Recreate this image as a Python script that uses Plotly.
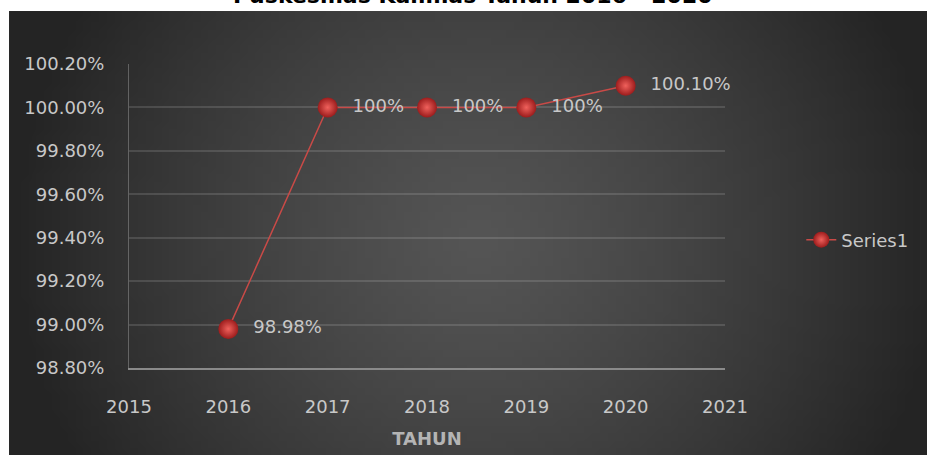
import base64
import struct
import zlib

import plotly.graph_objects as go

years = [2016, 2017, 2018, 2019, 2020]
coverage = [0.9898, 1.0, 1.0, 1.0, 1.001]
point_labels = ["98.98%", "100%", "100%", "100%", "100.10%"]
series_name = "Series1"
chart_title = "Puskesmas Kalimas Tahun 2016 - 2020"
x_title = "TAHUN"

FONT = "DejaVu Sans"
TEXT_GREY = "#c8c8c8"


def _radial_png(w=120, h=60, center=0x55, edge=0x24):
    """Small grayscale PNG with an elliptical radial gradient (chart background)."""
    rows = b""
    for j in range(h):
        row = bytearray([0])
        for i in range(w):
            dx = (i + 0.5 - w / 2) / (w / 2)
            dy = (j + 0.5 - h / 2) / (h / 2) * 0.5
            r = min(1.0, (dx * dx + dy * dy) ** 0.5)
            row.append(int(center - (center - edge) * r ** 1.3))
        rows += bytes(row)

    def chunk(tag, data):
        body = tag + data
        return struct.pack(">I", len(data)) + body + struct.pack(">I", zlib.crc32(body) & 0xFFFFFFFF)

    png = b"\x89PNG\r\n\x1a\n"
    png += chunk(b"IHDR", struct.pack(">IIBBBBB", w, h, 8, 0, 0, 0, 0))
    png += chunk(b"IDAT", zlib.compress(rows, 9))
    png += chunk(b"IEND", b"")
    return "data:image/png;base64," + base64.b64encode(png).decode()


fig = go.Figure(
    go.Scatter(
        x=years,
        y=coverage,
        text=point_labels,
        name=series_name,
        mode="lines+markers+text",
        texttemplate="\u00a0\u00a0%{text}",
        textposition="middle right",
        textfont={"family": FONT, "size": 18, "color": TEXT_GREY},
        cliponaxis=False,
        line={"color": "#c94a47", "width": 1.5},
        marker={
            "size": 20,
            "color": "#9c1c1c",
            "gradient": {"type": "radial", "color": "#f0615c"},
        },
    )
)

# plot area spans 129..725 px horizontally and 64..368 px vertically;
# the backdrop runs from (9, 11) past the lower-right corner of the figure
fig.add_layout_image(
    source=_radial_png(),
    xref="paper",
    yref="paper",
    x=-0.2013,
    y=1.1743,
    sizex=1.575,
    sizey=1.50,
    sizing="stretch",
    layer="below",
)

fig.add_annotation(
    text=f"<b>{chart_title}</b>",
    xref="paper",
    yref="paper",
    x=0.577,
    y=1.178,
    yanchor="bottom",
    showarrow=False,
    font={"family": FONT, "size": 22, "color": "#000000"},
)

fig.update_layout(
    width=927,
    height=455,
    margin={"l": 129, "r": 202, "t": 64, "b": 87},
    paper_bgcolor="#ffffff",
    plot_bgcolor="rgba(0,0,0,0)",
    showlegend=True,
    legend={
        "x": 1.128,
        "y": 0.421,
        "xanchor": "left",
        "yanchor": "middle",
        "bgcolor": "rgba(0,0,0,0)",
        "font": {"family": FONT, "size": 18, "color": TEXT_GREY},
    },
    font={"family": FONT, "color": TEXT_GREY},
)

fig.update_xaxes(
    range=[2015, 2021],
    dtick=1,
    tickformat="d",
    automargin=False,
    showgrid=False,
    zeroline=False,
    showline=True,
    linecolor="#8a8a8a",
    linewidth=1.5,
    ticks="",
    ticklabelstandoff=22,
    tickfont={"family": FONT, "size": 18, "color": TEXT_GREY},
    title={
        "text": f"<b>{x_title}</b>",
        "font": {"family": FONT, "size": 18, "color": "#b4b4b4"},
        "standoff": 16,
    },
)

fig.update_yaxes(
    range=[0.988, 1.002],
    dtick=0.002,
    tickformat=".2%",
    automargin=False,
    showgrid=True,
    gridcolor="rgba(255,255,255,0.13)",
    gridwidth=1.5,
    zeroline=False,
    showline=True,
    linecolor="rgba(255,255,255,0.25)",
    ticks="",
    ticklabelstandoff=20,
    tickfont={"family": FONT, "size": 18, "color": TEXT_GREY},
)

# page body has a default 8px margin; drop it so the figure sits at the window corner
fig.write_html(
    "out.html",
    config={"displayModeBar": False},
    post_script="document.body.style.margin='0';document.body.style.overflow='hidden';",
)
